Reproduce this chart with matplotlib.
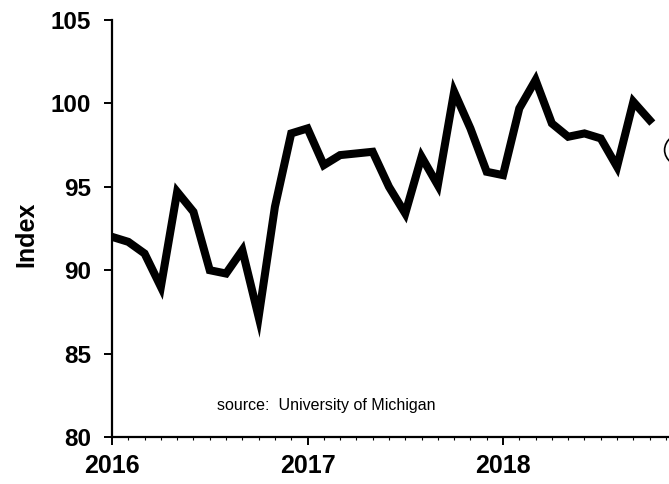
import matplotlib
matplotlib.use('Agg')
import matplotlib.pyplot as plt
from matplotlib.patches import Ellipse

plt.rcParams['font.family'] = ['Liberation Sans', 'DejaVu Sans']

# monthly index, Jan 2016 .. Oct 2018
start_year = 2016
index_values = [
	92.0, 91.7, 91.0, 89.0, 94.7, 93.5, 90.0, 89.8, 91.2, 87.2, 93.8, 98.2,
	98.5, 96.3, 96.9, 97.0, 97.1, 95.0, 93.4, 96.8, 95.1, 100.7, 98.5, 95.9,
	95.7, 99.7, 101.4, 98.8, 98.0, 98.2, 97.9, 96.2, 100.1, 99.0,
]
year_ticks = [2016, 2017, 2018]
y_ticks = [80, 85, 90, 95, 100, 105]
source_text = 'source:  University of Michigan'

def main():
	x = [start_year + i / 12.0 for i in range(len(index_values))]

	fig = plt.figure(figsize=(6.69, 4.84), dpi=100)
	ax = fig.add_axes([112 / 669, 1 - 437 / 484, 1 - 112 / 669, (437 - 20) / 484])

	ax.plot(x, index_values, color='black', lw=5.8, solid_joinstyle='miter')

	ax.set_xticks(year_ticks)
	ax.set_xticklabels([str(y) for y in year_ticks])
	ax.set_xticks([2016 + i / 12.0 for i in range(36)], minor=True)
	ax.set_yticks(y_ticks)
	# limits after ticks, set_xticks widens the view otherwise
	ax.set_xlim(2016, 2016 + (669 - 112) / 195.5)
	ax.set_ylim(80, 105)

	for s in ['top', 'right']:
		ax.spines[s].set_visible(False)
	for s in ['left', 'bottom']:
		ax.spines[s].set_linewidth(1.6)
		ax.spines[s].set_color('black')

	ax.tick_params(axis='y', direction='out', length=6, width=1.4, labelsize=17.5, pad=9)
	ax.tick_params(axis='x', direction='out', length=6, width=1.4, labelsize=18, pad=6)
	ax.tick_params(axis='x', which='minor', direction='out', length=2, width=0.8)
	for lab in ax.get_xticklabels() + ax.get_yticklabels():
		lab.set_fontweight('bold')

	ax.set_ylabel('Index', fontsize=18, fontweight='bold')
	ax.yaxis.set_label_coords(-0.132, 0.485)

	ax.text(0.385, 0.075, source_text, transform=ax.transAxes, ha='center', va='center', fontsize=11.5)

	# partly cropped circle at the right edge
	circ = Ellipse((688 / 669, 1 - 150 / 484), 0.07, 0.075, transform=fig.transFigure,
				   fill=False, edgecolor='black', lw=1.2, clip_on=False)
	fig.patches.append(circ)

	fig.savefig('out.png', dpi=100)

if __name__ == "__main__":
	main()
